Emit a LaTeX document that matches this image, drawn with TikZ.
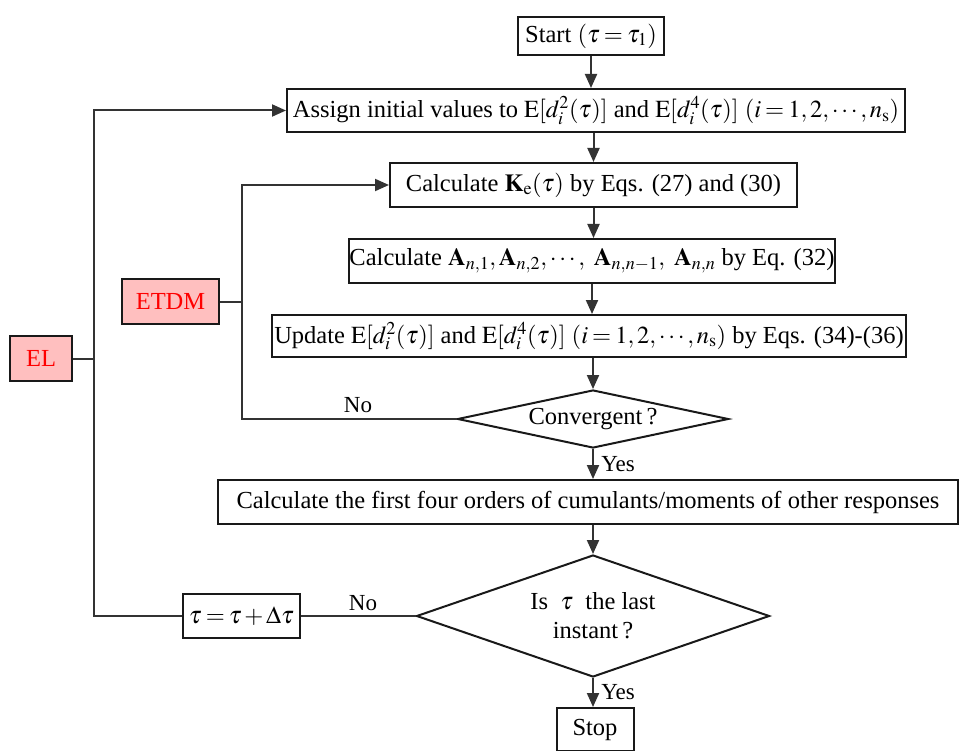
\documentclass[tikz,border=0pt]{standalone}
\usepackage{mathptmx}
\usepackage{fontspec}
\setmainfont{Liberation Serif}
\usetikzlibrary{arrows.meta,shapes.geometric,calc}
\medmuskip=2mu plus 1mu
\thickmuskip=3mu plus 2mu
\begin{document}
\begin{tikzpicture}[x=1pt,y=-1pt,
  every node/.style={font=\fontsize{24.5}{28}\selectfont},
  box/.style={draw=black!90,line width=2pt,fill=white,inner sep=0pt},
  redbox/.style={box,fill=red!25,text=red},
  dia/.style={draw=black!90,line width=2pt,shape=diamond,inner sep=0pt,align=center},
  conn/.style={draw=black!80,line width=2pt},
  arr/.style={conn,-{Triangle[length=14pt,width=12pt]}},
  lbl/.style={font=\fontsize{23}{26}\selectfont}
]
\useasboundingbox (0,0) rectangle (960,751);
\node[box,minimum width=146,minimum height=38] (start) at (591,36) {Start $(\tau=\tau_1)$};
\node[box,minimum width=618,minimum height=43] (assign) at (596,110.5)
  {Assign initial values to $\mathrm{E}[d_i^2(\tau)]$ and $\mathrm{E}[d_i^4(\tau)]$ $(i=1,2,\cdots,n_{\mathrm{s}})$};
\node[box,minimum width=407,minimum height=44] (calck) at (593.5,185)
  {Calculate $\mathbf{K}_{\mathrm{e}}(\tau)$ by Eqs. (27) and (30)};
\node[box,minimum width=480,minimum height=44] (calca) at (592,261)
  {Calculate $\mathbf{A}_{n,1},\mathbf{A}_{n,2},\cdots,\ \mathbf{A}_{n,n-1},\ \mathbf{A}_{n,n}$ by Eq. (32)};
\node[box,minimum width=634,minimum height=42] (update) at (589,336)
  {Update $\mathrm{E}[d_i^2(\tau)]$ and $\mathrm{E}[d_i^4(\tau)]$ $(i=1,2,\cdots,n_{\mathrm{s}})$ by Eqs. (34)-(36)};
\node[dia,minimum width=271,minimum height=58,aspect=4.6] (conv) at (593,419) {Convergent\,?};
\node[box,minimum width=740,minimum height=44] (four) at (588,502)
  {Calculate the first four orders of cumulants/moments of other responses};
\node[dia,minimum width=353,minimum height=122,aspect=2.9] (last) at (593,616)
  {Is\ \ $\tau$\ \ the last\\[1pt] instant\,?};
\node[box,minimum width=77,minimum height=43] (stop) at (595,729.5) {Stop};
\node[box,minimum width=117,minimum height=44] (upd) at (241.5,616) {$\tau=\tau+\Delta\tau$};
\node[redbox,minimum width=97,minimum height=45] (etdm) at (170.5,301.5) {ETDM};
\node[redbox,minimum width=62,minimum height=45] (el) at (41,358.5) {EL};
\coordinate (jE) at (242,301.5);
\coordinate (jL) at (94,358.5);
% main flow
\draw[arr] (start.south) -- (start.south |- assign.north);
\draw[arr] (calck.north |- assign.south) -- (calck.north);
\draw[arr] (calck.south) -- (calck.south |- calca.north);
\draw[arr] (calca.south) -- (calca.south |- update.north);
\draw[arr] (conv.north |- update.south) -- (conv.north);
\draw[arr] (conv.south) -- (conv.south |- four.north) node[lbl,midway,right,xshift=4pt] {Yes};
\draw[arr] (last.north |- four.south) -- (last.north);
\draw[arr] (last.south) -- (last.south |- stop.north) node[lbl,midway,right,xshift=4pt] {Yes};
% inner loop
\draw[arr] (conv.west) -- (conv.west -| jE) -- (jE |- calck.west) -- (calck.west);
\node[lbl] (no1) at (358,405) {No};
\draw[conn] (etdm.east) -- (jE);
% outer loop
\draw[conn] (last.west) -- (upd.east);
\node[lbl] (no2) at (363,603) {No};
\draw[arr] (upd.west) -- (upd.west -| jL) -- (jL |- assign.west) -- (assign.west);
\draw[conn] (el.east) -- (jL);
\end{tikzpicture}
\end{document}
